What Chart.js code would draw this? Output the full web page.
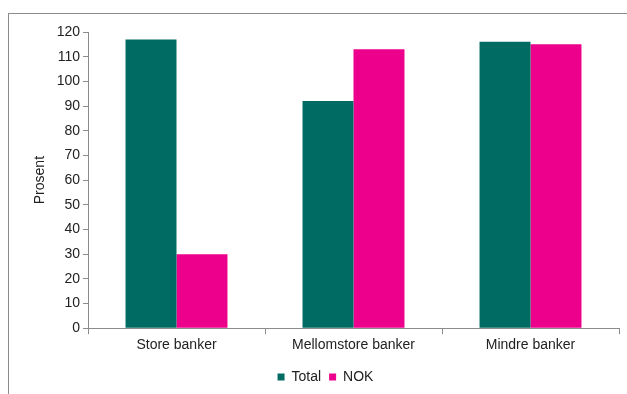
<!DOCTYPE html>
<html>
<head>
<meta charset="utf-8">
<script src="https://cdn.jsdelivr.net/npm/chart.js@4"></script>
<style>
    body { margin: 0; background: #fff; }
    .wrap { position: relative; width: 627px; height: 394px; overflow: hidden; }
    .frame { position: absolute; left: 8px; top: 13px; width: 700px; height: 500px; border: 1px solid #8c8c8c; }
    canvas { position: absolute; left: 0; top: 0; }
</style>
</head>
<body>
<div class="wrap">
    <div class="frame"></div>
    <canvas id="chart" width="627" height="394"></canvas>
</div>
<script>
// Chart data
const categories = ['Store banker', 'Mellomstore banker', 'Mindre banker'];
const totalValues = [117, 92, 116];
const nokValues = [30, 113, 115];
const yTicks = [0, 10, 20, 30, 40, 50, 60, 70, 80, 90, 100, 110, 120];

const axisGray = '#8c8c8c';
const font = { family: "'Liberation Sans', Arial, sans-serif", size: 14 };

new Chart(document.getElementById('chart').getContext('2d'), {
    type: 'bar',
    data: {
        labels: categories,
        datasets: [{
            label: 'Total',
            data: totalValues,
            backgroundColor: '#006b63',
            barPercentage: 1,
            categoryPercentage: 0.576
        }, {
            label: 'NOK',
            data: nokValues,
            backgroundColor: '#ec008c',
            barPercentage: 1,
            categoryPercentage: 0.576
        }]
    },
    options: {
        responsive: false,
        animation: false,
        layout: { padding: { top: 32, right: 8, bottom: 0, left: 32 } },
        scales: {
            x: {
                afterFit: (scale) => { scale.height += 5; },
                grid: { display: true, drawOnChartArea: false, drawTicks: true, tickLength: 6, color: axisGray, offset: true },
                border: { color: axisGray },
                ticks: { color: '#222', font: font, padding: 3 }
            },
            y: {
                min: 0,
                max: 120,
                afterFit: (scale) => { scale.width = 56; },
                afterBuildTicks: (scale) => { scale.ticks = yTicks.map(v => ({ value: v })); },
                grid: { display: true, drawOnChartArea: false, drawTicks: true, tickLength: 5, color: axisGray },
                border: { color: axisGray },
                ticks: { color: '#222', font: font, padding: 3 },
                title: { display: true, text: 'Prosent', color: '#222', font: font, padding: { top: 0, bottom: 0 } }
            }
        },
        plugins: {
            legend: {
                position: 'bottom',
                labels: { boxWidth: 7, boxHeight: 7, color: '#222', font: font, padding: 8 }
            },
            tooltip: { enabled: false }
        }
    }
});
</script>
</body>
</html>
